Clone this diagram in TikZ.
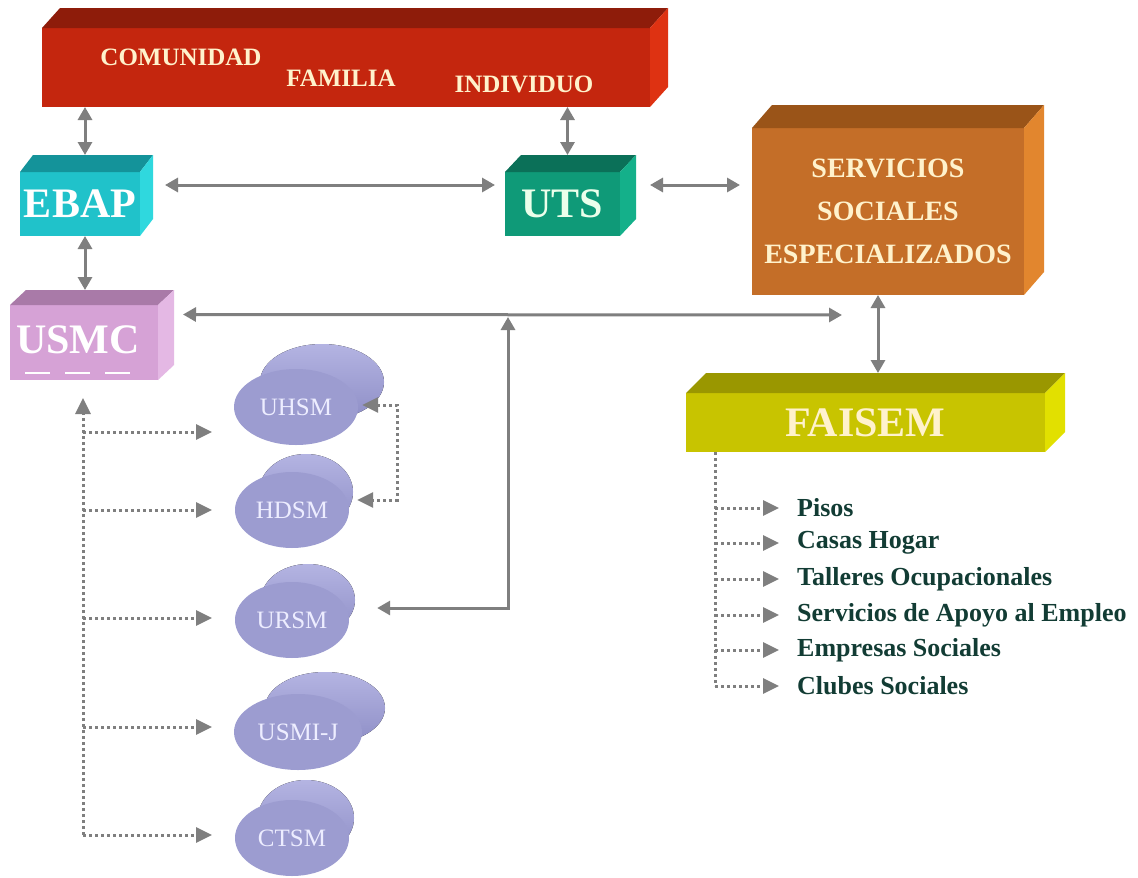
\documentclass[tikz,border=0pt]{standalone}
\usepackage{fontspec}
\setmainfont{Liberation Serif}
\usetikzlibrary{arrows.meta,shapes.geometric,calc}
\definecolor{redF}{HTML}{C4260E}
\definecolor{redT}{HTML}{8E1C0A}
\definecolor{redS}{HTML}{DE3212}
\definecolor{ebapF}{HTML}{20C2CA}
\definecolor{ebapT}{HTML}{14939A}
\definecolor{ebapS}{HTML}{2FD8DE}
\definecolor{utsF}{HTML}{0F9A78}
\definecolor{utsT}{HTML}{0B7058}
\definecolor{utsS}{HTML}{14B08A}
\definecolor{servF}{HTML}{C46E28}
\definecolor{servT}{HTML}{9A5418}
\definecolor{servS}{HTML}{E2862E}
\definecolor{usmcF}{HTML}{D6A2D6}
\definecolor{usmcT}{HTML}{A97AA8}
\definecolor{usmcS}{HTML}{E4B8E4}
\definecolor{faiF}{HTML}{C8C400}
\definecolor{faiT}{HTML}{9A9700}
\definecolor{faiS}{HTML}{E2E000}
\definecolor{blobF}{HTML}{9C9CD0}
\definecolor{blobL}{HTML}{B4B4E2}
\definecolor{blobD}{HTML}{8E8EC6}
\definecolor{cream}{HTML}{FFF2CC}
\definecolor{arrgray}{HTML}{7F7F7F}
\definecolor{itemc}{HTML}{123C34}
\newcommand\cuboid[5]{%
  \fill[#4] (#1.north west) -- ++(#2,-#3) -- ($(#1.north east)+(#2,-#3)$) -- (#1.north east) -- cycle;
  \fill[#5] (#1.north east) -- ++(#2,-#3) -- ($(#1.south east)+(#2,-#3)$) -- (#1.south east) -- cycle;}
\newcommand\blobback[5]{\fill[top color=blobL, bottom color=blobD] (#1,#2) ellipse [x radius=#3, y radius=#4];}
\tikzset{
  front/.style={inner sep=0pt, outer sep=0pt, draw=none},
  lbl/.style={text=cream, font=\bfseries\fontsize{25}{25}\selectfont},
  big/.style={text=cream, font=\bfseries\fontsize{42}{42}\selectfont},
  blob/.style={ellipse, fill=blobF, inner sep=0pt, text=white!93!blue, font=\fontsize{25}{25}\selectfont},
  item/.style={anchor=west, text=itemc, inner sep=0pt, font=\bfseries\fontsize{26}{26}\selectfont},
  conn/.style={draw=arrgray, line width=3pt, {Triangle[length=13pt,width=14pt]}-{Triangle[length=13pt,width=14pt]}},
  dotc/.style={draw=arrgray, line width=3pt, dash pattern=on 3pt off 3pt},
  dota/.style={dotc, -{Triangle[length=16pt,width=15pt]}},
}
\begin{document}
\begin{tikzpicture}[x=1pt,y=-1pt]
\useasboundingbox (0,0) rectangle (1138,878);
\fill[white] (0,0) rectangle (1138,878);

% top red bar
\node[front, fill=redF, minimum width=608pt, minimum height=79pt] (red) at (346,67.5) {};
\cuboid{red}{18}{20}{redT}{redS}
\node[lbl] (comunidad) at (181,57) {COMUNIDAD};
\node[lbl] (familia) at (341,78) {FAMILIA};
\node[lbl] (individuo) at (524,84) {INDIVIDUO};

% EBAP
\node[front, fill=ebapF, minimum width=120pt, minimum height=64pt, big, text=white] (ebap) at (80,204) {EBAP};
\cuboid{ebap}{13}{17}{ebapT}{ebapS}
% UTS
\node[front, fill=utsF, minimum width=115pt, minimum height=64pt, big, text=white!92!green] (uts) at (562.5,204) {UTS};
\cuboid{uts}{16}{17}{utsT}{utsS}
% Servicios
\node[front, fill=servF, minimum width=272pt, minimum height=167pt, align=center, text=cream,
  font=\bfseries\fontsize{28}{43}\selectfont] (serv) at (888,211.5) {SERVICIOS\\SOCIALES\\ESPECIALIZADOS};
\cuboid{serv}{20}{23}{servT}{servS}
% USMC
\node[front, fill=usmcF, minimum width=148pt, minimum height=75pt] (usmc) at (84,342.5) {};
\cuboid{usmc}{16}{15}{usmcT}{usmcS}
\node[big, text=white, inner sep=0pt] (usmct) at (78,340) {USMC};
\draw[white, line width=2pt, dash pattern=on 25pt off 15pt] ($(usmc.south west)+(15,-7)$) -- ($(usmc.south west)+(120,-7)$);
% FAISEM
\node[front, fill=faiF, minimum width=359pt, minimum height=59pt, big] (faisem) at (865.5,422.5) {FAISEM};
\cuboid{faisem}{20}{20}{faiT}{faiS}

% blobs
\blobback{322}{382}{62}{38}{}
\node[blob, minimum width=124pt, minimum height=76pt] (uhsm) at (296,407) {UHSM};
\blobback{306}{492}{47}{38}{}
\node[blob, minimum width=114pt, minimum height=76pt] (hdsm) at (292,510) {HDSM};
\blobback{308}{600}{47}{36}{}
\node[blob, minimum width=114pt, minimum height=76pt] (ursm) at (292,620) {URSM};
\blobback{325}{708}{60}{36}{}
\node[blob, minimum width=128pt, minimum height=76pt] (usmij) at (298,732) {USMI-J};
\blobback{306}{818}{48}{38}{}
\node[blob, minimum width=114pt, minimum height=76pt] (ctsm) at (292,838) {CTSM};

% solid connectors
\coordinate (ebaptop) at ($(ebap.north)+(5,-17)$);
\draw[conn] (ebaptop |- red.south) -- (ebaptop);
\coordinate (utstop) at ($(uts.north)+(5,-17)$);
\draw[conn] (utstop |- red.south) -- (utstop);
\draw[conn] ($(ebap.east)+(25,-19)$) -- ($(uts.west)+(-10,-19)$);
\coordinate (utsr) at ($(uts.east)+(30,-19)$);
\coordinate (servl) at ($(serv.west)+(-12,0)$);
\draw[conn] (utsr) -- (servl |- utsr);
\coordinate (ebapbot) at ($(ebap.south)+(5,0)$);
\draw[conn] (ebapbot) -- (ebapbot |- 0,290);
\coordinate (usmcr) at ($(usmc.east)+(25,-28)$);
\coordinate (servbl) at ($(serv.south west)+(90,20)$);
\draw[conn] (usmcr) -- (servbl);
\coordinate (junc) at (508,317);
\coordinate (ursmr) at ($(ursm.east)+(28,-12)$);
\draw[conn] (ursmr) -| (junc);
\coordinate (servb) at ($(serv.south)+(-10,0)$);
\draw[conn] (servb) -- ($(faisem.north)+(12.5,-20)$);

% dotted connectors (USMC side)
\coordinate (usmcin) at ($(usmc.south)+(-1,18)$);
\draw[dotc] (usmcin |- 0,835) -- ($(usmcin)+(0,12)$);
\draw[dota] ($(usmcin)+(0,16)$) -- (usmcin);
\draw[dota] (usmcin |- 0,432) -- (212,432);
\draw[dota] (usmcin |- 0,510) -- (212,510);
\draw[dota] (usmcin |- 0,618) -- (212,618);
\draw[dota] (usmcin |- 0,727) -- (212,727);
\draw[dota] (usmcin |- 0,835) -- (212,835);
\draw[dotc, {Triangle[length=16pt,width=15pt]}-{Triangle[length=16pt,width=15pt]}]
  ($(uhsm.east)+(4,-2)$) -- (397,405) -- (397,500) -- ($(hdsm.east)+(8,-10)$);

% FAISEM items
\coordinate (fv) at ($(faisem.south west)+(29,0)$);
\draw[dotc] (fv) -- (fv |- 0,686);
\node[item] (pisos) at (797,508) {Pisos};
\node[item] (casas) at (797,543) {Casas Hogar};
\node[item] (talleres) at (797,579) {Talleres Ocupacionales};
\node[item] (servap) at (797,615) {Servicios de Apoyo al Empleo};
\node[item] (empresas) at (797,650) {Empresas Sociales};
\node[item] (clubes) at (797,686) {Clubes Sociales};
\foreach \n in {pisos,casas,talleres,servap,empresas,clubes}{
  \draw[dota] (fv |- \n.west) -- ($(\n.west)+(-18,0)$);
}
\end{tikzpicture}
\end{document}
